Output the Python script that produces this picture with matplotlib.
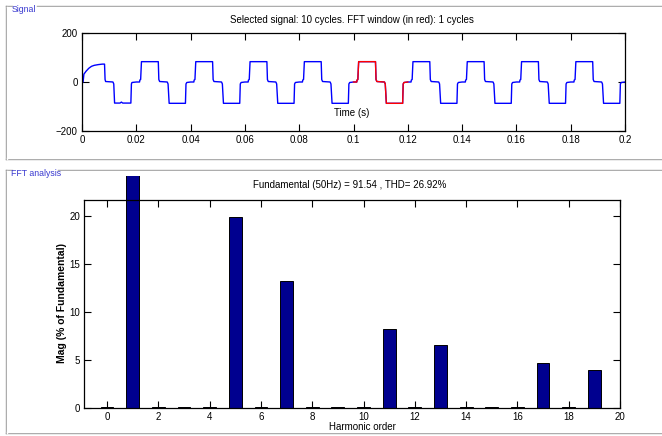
import numpy as np
import matplotlib
matplotlib.use("Agg")
import matplotlib.pyplot as plt
from matplotlib.lines import Line2D
from matplotlib.transforms import Bbox, TransformedBbox

# ---------------- data ----------------
# first (transient) cycle of the signal
first_t = [0.0, 0.0004, 0.0007, 0.0015, 0.0025, 0.0035, 0.0045, 0.0060, 0.0075, 0.0083,
           0.0085, 0.0087, 0.0114, 0.0117, 0.0120, 0.0140, 0.0145, 0.0150, 0.0180, 0.0182,
           0.0184, 0.0200]
first_v = [0, 0, 32, 44, 56, 64, 68, 71, 73, 73,
           10, 2, 0, -8, -86, -86, -82, -86, -86, -8,
           -2, 0]
# one steady-state cycle (phase within 20 ms)
cycle_t = [0.0, 0.0012, 0.0013, 0.0016, 0.0019, 0.0081, 0.0083, 0.0086, 0.0114, 0.0117,
           0.0121, 0.0181, 0.0183, 0.0186, 0.0200]
cycle_v = [0, 0, 8, 10, 83, 83, 10, 2, 0, -8,
           -87, -87, -8, -2, 0]
n_cycles = 10
period = 0.02
fft_start, fft_end = 0.1, 0.12

harmonics = list(range(0, 20))
mag = [0.15, 100.0, 0.15, 0.1, 0.15, 19.9, 0.15, 13.3, 0.15, 0.1,
       0.15, 8.2, 0.15, 6.6, 0.15, 0.1, 0.15, 4.7, 0.15, 4.0]

top_title = "Selected signal: 10 cycles. FFT window (in red): 1 cycles"
bottom_title = "Fundamental (50Hz) = 91.54 , THD= 26.92%"

# ---------------- figure ----------------
W, H = 662, 436
fig = plt.figure(figsize=(W / 100, H / 100), dpi=100)
fig.patch.set_facecolor("white")
plt.rcParams['font.family'] = ['Liberation Sans Narrow', 'Liberation Sans', 'DejaVu Sans']

def fx(x):
    return x / W

def fy(y):
    return 1 - y / H

def axes_px(l, t, r, b):
    return fig.add_axes([fx(l), fy(b), fx(r) - fx(l), fy(t) - fy(b)])

# panel frames (etched)
def frame(x0, y0, x1, y1, title_end):
    for off, col in ((0, "#9a9a9a"), (1.2, "#ffffff")):
        segs = [([x0 + off, x0 + off], [y1, y0 + off]),
                ([x0 + off, x0 + 6], [y0 + off, y0 + off]),
                ([title_end, x1], [y0 + off, y0 + off]),
                ([x0 + off, x1], [y1 - off, y1 - off])]
        for xs, ys in segs:
            fig.add_artist(Line2D([fx(v) for v in xs], [fy(v) for v in ys],
                                  color=col, lw=1.0, transform=fig.transFigure))

frame(6, 6, 662, 159, 37)
frame(6, 170, 662, 433, 58)
fig.text(fx(12), fy(10), "Signal", color="#3a3ad0", fontsize=6.3, ha="left", va="center")
fig.text(fx(11), fy(173.5), "FFT analysis", color="#3a3ad0", fontsize=6.3, ha="left", va="center")

tick_kw = dict(direction="in", top=True, right=True, length=5, width=0.8,
               labelsize=7, pad=3)

# ---------------- signal axes ----------------
ax1 = axes_px(82, 33, 625, 131)
t_all = list(first_t)
v_all = list(first_v)
for k in range(1, n_cycles):
    t_all += [tt + k * period for tt in cycle_t[1:]]
    v_all += cycle_v[1:]
t_all = np.array(t_all)
v_all = np.array(v_all)
ax1.plot(t_all, v_all, color=(0, 0, 1), lw=1.0)
m = (t_all >= fft_start - 1e-9) & (t_all <= fft_end + 1e-9)
ax1.plot(t_all[m], v_all[m], color=(1, 0, 0), lw=1.0)
ax1.set_xlim(0, 0.2)
ax1.set_ylim(-200, 200)
ax1.set_xticks(np.arange(0, 0.2001, 0.02))
ax1.set_xticklabels(["0", "0.02", "0.04", "0.06", "0.08", "0.1", "0.12", "0.14",
                     "0.16", "0.18", "0.2"])
ax1.set_yticks([-200, 0, 200])
ax1.tick_params(**tick_kw)
for s in ax1.spines.values():
    s.set_linewidth(0.9)
fig.text(fx(352), fy(20), top_title, fontsize=7, ha="center", va="center")
fig.text(fx(352), fy(113), "Time (s)", fontsize=7, ha="center", va="center")

# ---------------- FFT axes ----------------
ax2 = axes_px(84, 200, 620, 408)
bars = ax2.bar(harmonics, mag, width=0.5, color=(0, 0, 0.5625), edgecolor="black", lw=0.7)
clip = TransformedBbox(Bbox.from_extents(fx(80), fy(408), fx(625), fy(175.5)), fig.transFigure)
for b in bars:
    b.set_clip_box(clip)
ax2.set_xlim(-0.9, 20)
ax2.set_ylim(0, 21.7)
ax2.set_xticks(range(0, 21, 2))
ax2.set_yticks([0, 5, 10, 15, 20])
ax2.tick_params(**tick_kw)
for s in ax2.spines.values():
    s.set_linewidth(0.9)
fig.text(fx(350), fy(185), bottom_title, fontsize=7, ha="center", va="center")
fig.text(fx(62), fy(303), "Mag (% of Fundamental)", fontsize=7.5, fontweight="bold",
         rotation=90, ha="center", va="center")
fig.text(fx(362), fy(427), "Harmonic order", fontsize=7, ha="center", va="center")

fig.savefig("out.png", dpi=100)
